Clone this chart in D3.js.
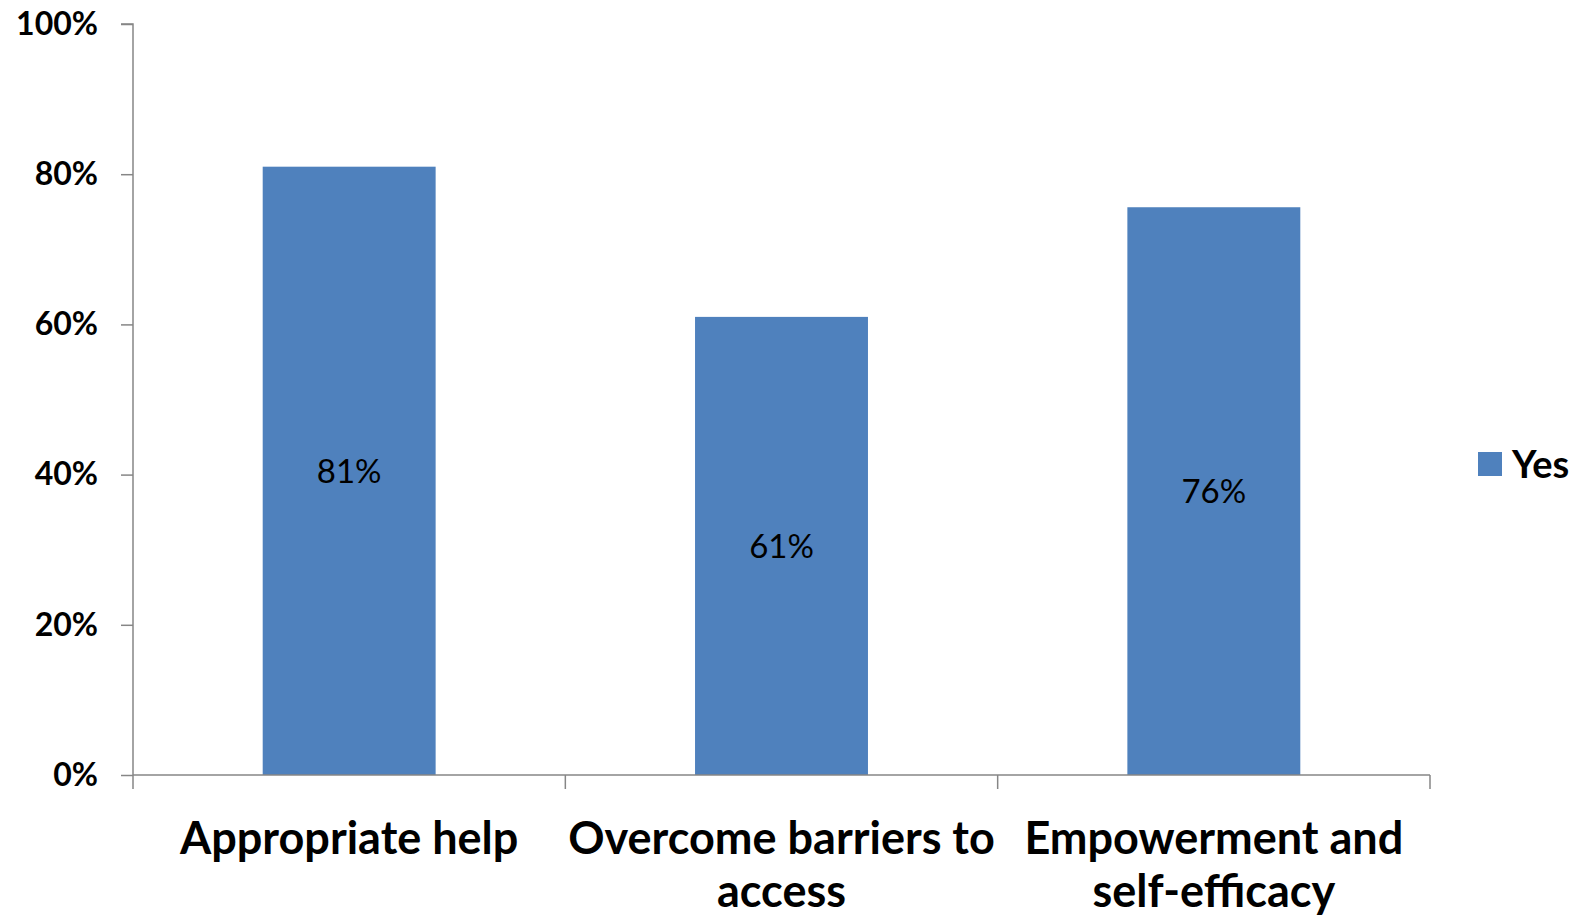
<!DOCTYPE html>
<html>
<head>
<meta charset="utf-8">
<script src="https://cdn.jsdelivr.net/npm/d3@7"></script>
<style>
  html, body { margin: 0; padding: 0; background: #ffffff; }
  svg { display: block; }
</style>
</head>
<body>
<svg id="chart" width="1579" height="918"></svg>
<script>
const categories = ["Appropriate help", "Overcome barriers to\naccess", "Empowerment and\nself-efficacy"];
const seriesName = "Yes";
const values = [0.81, 0.61, 0.756];
const yTicks = [0, 0.2, 0.4, 0.6, 0.8, 1.0];

const W = 1579, H = 918;
const margin = { left: 133, right: 149, top: 24, bottom: 143 };
const svg = d3.select("#chart");
const axisColor = "#868686";
const barColor = "#4F81BD";

const x = d3.scaleBand()
  .domain(categories)
  .range([margin.left, W - margin.right])
  .paddingInner(0.6)
  .paddingOuter(0.3);

const y = d3.scaleLinear()
  .domain([0, 1])
  .range([H - margin.bottom, margin.top]);

// Bars
svg.append("g").selectAll("rect")
  .data(values)
  .join("rect")
  .attr("x", (d, i) => x(categories[i]))
  .attr("y", d => y(d))
  .attr("width", x.bandwidth())
  .attr("height", d => y(0) - y(d))
  .attr("fill", barColor);

// Data labels
svg.append("g").selectAll("text")
  .data(values)
  .join("text")
  .attr("x", (d, i) => x(categories[i]) + x.bandwidth() / 2)
  .attr("y", d => (y(d) + y(0)) / 2)
  .attr("dy", "0.36em")
  .attr("text-anchor", "middle")
  .attr("font-family", "Lato, 'Open Sans', sans-serif")
  .attr("font-size", 33)
  .attr("fill", "#000")
  .text(d => d3.format(".0%")(d));

// Y axis
const yAxis = d3.axisLeft(y)
  .tickValues(yTicks)
  .tickFormat(d3.format(".0%"))
  .tickSize(12)
  .tickPadding(23);
const gy = svg.append("g")
  .attr("transform", `translate(${margin.left},0)`)
  .call(yAxis);
gy.select(".domain").attr("stroke", axisColor).attr("stroke-width", 1.5)
  .attr("d", `M-12,${y(1)}H0V${y(0)}`);
gy.selectAll(".tick line").attr("stroke", axisColor).attr("stroke-width", 1.5);
gy.selectAll(".tick text")
  .attr("font-family", "Lato, 'Open Sans', sans-serif")
  .attr("font-weight", "bold")
  .attr("font-size", 32)
  .attr("fill", "#000");

// X axis line and ticks at category boundaries
const x0 = x.range()[0];
const boundaries = d3.range(categories.length + 1).map(i => x0 + i * x.step());
const gx = svg.append("g");
gx.append("line")
  .attr("x1", x.range()[0]).attr("x2", x.range()[1])
  .attr("y1", y(0)).attr("y2", y(0))
  .attr("stroke", axisColor).attr("stroke-width", 1.5);
gx.selectAll(".btick")
  .data(boundaries)
  .join("line")
  .attr("class", "btick")
  .attr("x1", d => d).attr("x2", d => d)
  .attr("y1", y(0)).attr("y2", y(0) + 14)
  .attr("stroke", axisColor).attr("stroke-width", 1.5);

// Category labels
const catG = svg.append("g");
categories.forEach(c => {
  const lines = c.split("\n");
  const t = catG.append("text")
    .attr("text-anchor", "middle")
    .attr("font-family", "Lato, 'Open Sans', sans-serif")
    .attr("font-weight", "bold")
    .attr("font-size", 45)
    .attr("fill", "#000");
  lines.forEach((ln, j) => {
    t.append("tspan")
      .attr("x", x(c) + x.bandwidth() / 2)
      .attr("y", y(0) + 79 + j * 53)
      .text(ln);
  });
});

// Legend
const lg = svg.append("g").attr("transform", "translate(1478,452)");
lg.append("rect").attr("width", 24).attr("height", 24).attr("fill", barColor);
lg.append("text")
  .attr("x", 34).attr("y", 12).attr("dy", "0.36em")
  .attr("font-family", "Lato, 'Open Sans', sans-serif")
  .attr("font-weight", "bold")
  .attr("font-size", 38)
  .attr("fill", "#000")
  .text(seriesName);
</script>
</body>
</html>
